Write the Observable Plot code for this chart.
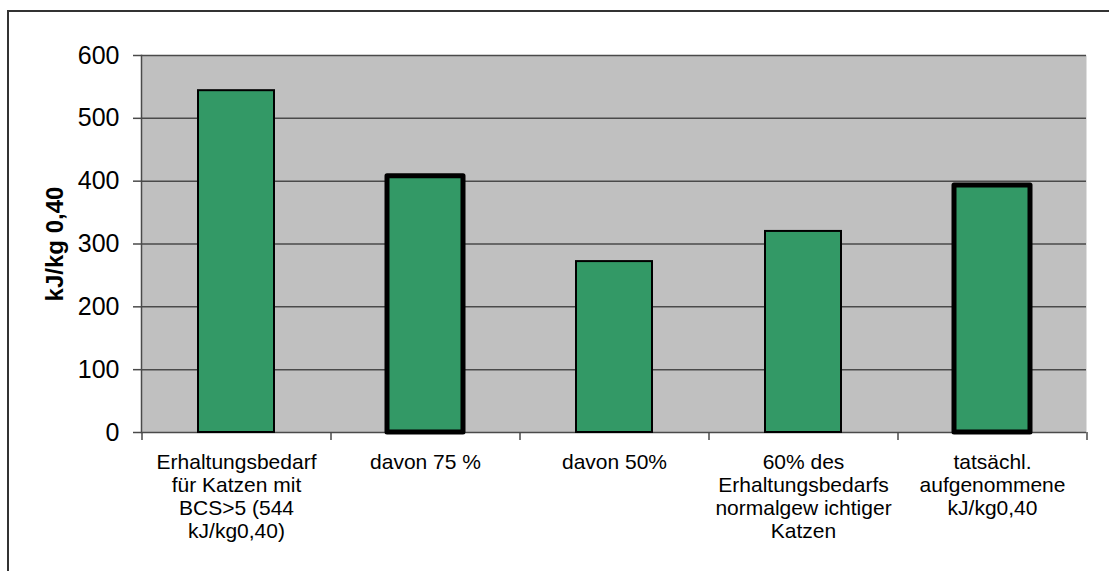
<!DOCTYPE html>
<html>
<head>
<meta charset="utf-8">
<script src="https://cdn.jsdelivr.net/npm/d3@7"></script>
<script src="https://cdn.jsdelivr.net/npm/@observablehq/plot@0.6"></script>
<style>
  html, body { margin: 0; padding: 0; background: #fff; overflow: hidden; }
  #wrap { position: relative; width: 1109px; height: 571px; }
  #border { position: absolute; left: 7px; top: 10px; width: 1110px; height: 570px; border: 2px solid #333; box-sizing: border-box; }
  #chart { position: absolute; left: 0; top: 0; }
  #chart svg { font-family: "Liberation Sans", Arial, sans-serif; }
  g[aria-label="y-axis label"] text { font-weight: bold; font-size: 24px; fill: #000; }
  g[aria-label="y-axis tick label"] text { font-size: 25px; fill: #000; }
</style>
</head>
<body>
<div id="wrap"><div id="border"></div><div id="chart"></div></div>
<script>
const categories = [
  "Erhaltungsbedarf\nfür Katzen mit\nBCS>5 (544\nkJ/kg0,40)",
  "davon 75 %",
  "davon 50%",
  "60% des\nErhaltungsbedarfs\nnormalgew ichtiger\nKatzen",
  "tatsächl.\naufgenommene\nkJ/kg0,40"
];
const values = [544, 408, 272, 320, 393];
const yTicks = [0, 100, 200, 300, 400, 500, 600];
const yLabel = "kJ/kg 0,40";
const emphasized = [categories[1], categories[4]];

const data = categories.map((c, i) => ({category: c, value: values[i]}));
const thin = data.filter(d => !emphasized.includes(d.category));
const thick = data.filter(d => emphasized.includes(d.category));

const W = 1109, H = 571, mL = 141, mR = 23, mT = 55, mB = 139;
const step = (W - mL - mR) / categories.length;

const chart = Plot.plot({
  width: W,
  height: H,
  marginLeft: mL,
  marginRight: mR,
  marginTop: mT,
  marginBottom: mB,
  style: {background: "transparent", fontFamily: "Liberation Sans, Arial, sans-serif", overflow: "visible"},
  x: {domain: categories, paddingInner: 0.6, paddingOuter: 0.3, axis: null},
  y: {domain: [0, 600], ticks: yTicks, label: yLabel},
  marks: [
    Plot.frame({fill: "#c0c0c0", stroke: null}),
    Plot.ruleY(yTicks.filter(t => t > 0), {stroke: "#4a4a4a", strokeWidth: 1.5}),
    Plot.axisY(yTicks, {
      tickSize: 8, tickPadding: 14, stroke: "#4a4a4a", strokeWidth: 1.5,
      label: yLabel, labelAnchor: "center", labelArrow: "none", labelOffset: 96,
      fontSize: 25, fill: "#000"
    }),
    Plot.frame({anchor: "left", stroke: "#4a4a4a", strokeWidth: 1.5}),
    Plot.ruleY([0], {stroke: "#4a4a4a", strokeWidth: 1.5}),
    // category separator ticks (between categories) + closing tick
    Plot.ruleX(categories, {x: d => d, y1: 0, y2: 0, dx: -step / 2, insetBottom: -8, stroke: "#4a4a4a", strokeWidth: 1.5}),
    Plot.ruleX(categories.slice(-1), {x: d => d, y1: 0, y2: 0, dx: step / 2, insetBottom: -8, stroke: "#4a4a4a", strokeWidth: 1.5}),
    Plot.barY(thin, {x: "category", y: "value", fill: "#339966", stroke: "#000", strokeWidth: 2}),
    Plot.barY(thick, {x: "category", y: "value", fill: "#339966", stroke: "#000", strokeWidth: 5, strokeLinejoin: "round"}),
    Plot.text(categories, {
      x: d => d, frameAnchor: "bottom", lineAnchor: "top", dy: 20,
      text: d => d, fontSize: 21, lineHeight: 1.1, fill: "#000", textAnchor: "middle"
    })
  ]
});
document.getElementById("chart").appendChild(chart);
</script>
</body>
</html>
